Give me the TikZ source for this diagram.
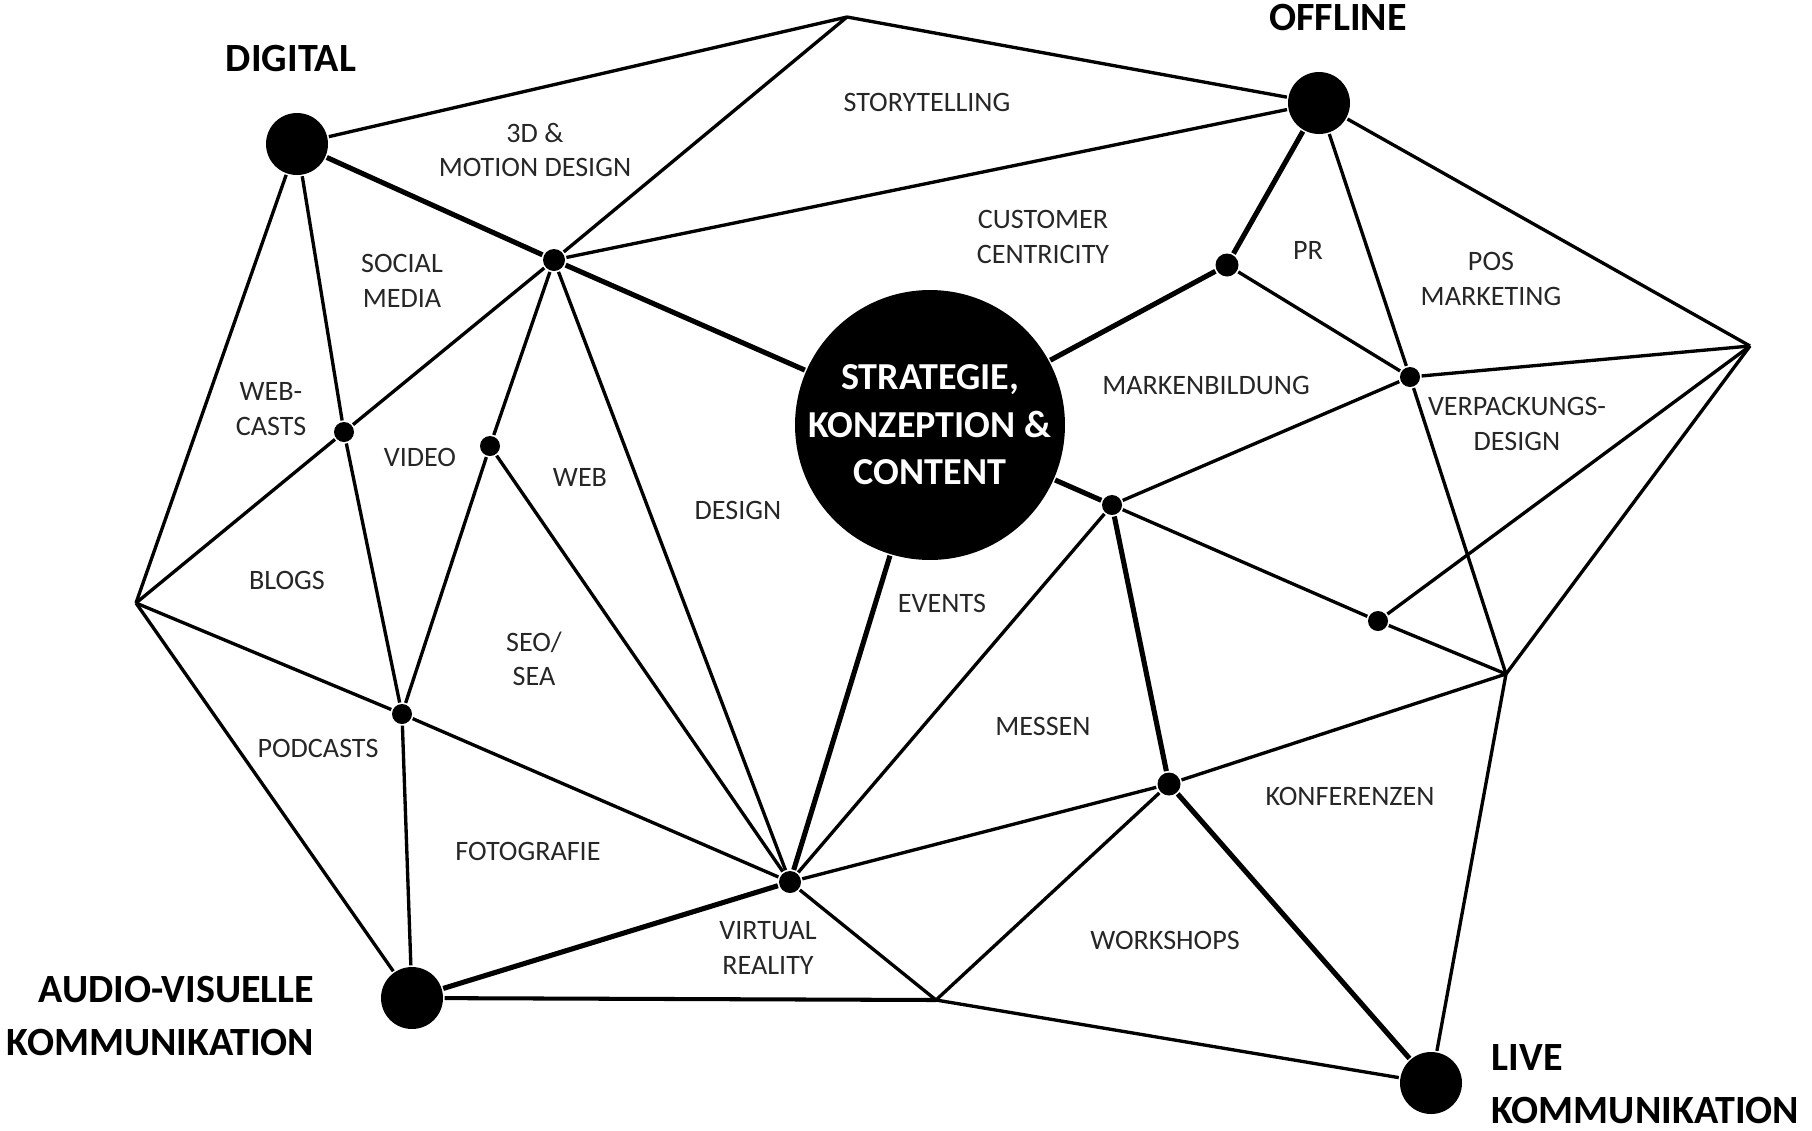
\documentclass[tikz,border=0pt]{standalone}
\usepackage{fontspec}
\setmainfont{Carlito}
\begin{document}
\begin{tikzpicture}[x=0.02cm, y=-0.02cm, line width=1.9pt]
\tikzset{pol/.style={circle, fill, inner sep=0pt, minimum size=1.24cm},
knoten/.style={circle, fill, inner sep=0pt, minimum size=0.4cm},
kern/.style={circle, fill, inner sep=0pt, minimum size=5.4cm, text=white, align=center, font=\fontsize{21.7}{27}\selectfont\bfseries},
feld/.style={align=center, inner sep=0pt, text=black!85, font=\fontsize{16}{19.7}\selectfont},
titel/.style={inner sep=0pt, font=\fontsize{22.8}{30}\selectfont\bfseries},
stark/.style={line width=2.9pt}}
\useasboundingbox (0,0) rectangle (1812,1130);
\node[pol] (Digital) at (297,144) {};
\node[pol] (Offline) at (1319,103) {};
\node[pol] (Audio) at (412,998) {};
\node[pol] (Live) at (1431,1083) {};
\node[kern] (Kern) at (930,425) {STRATEGIE,\\KONZEPTION \&\\CONTENT};
\coordinate (T) at (847,17);
\coordinate (R) at (1750,346);
\coordinate (L) at (136,603);
\coordinate (K) at (1506,674);
\coordinate (M) at (936,1000);
\node[knoten, minimum size=0.44cm] (V1) at (554,260) {};
\node[knoten] (V2) at (344,432) {};
\node[knoten] (V3) at (490,446) {};
\node[knoten] (V4) at (402,714) {};
\node[knoten, minimum size=0.44cm] (V5) at (790,882) {};
\node[knoten, minimum size=0.46cm] (V6) at (1227,265) {};
\node[knoten] (V7) at (1410,377) {};
\node[knoten] (V8) at (1112,505) {};
\node[knoten] (V9) at (1378,621) {};
\node[knoten, minimum size=0.46cm] (V10) at (1169,784) {};
\draw (Digital) -- (T);
\draw (T) -- (Offline);
\draw[stark] (Digital) -- (V1);
\draw (T) -- (V1);
\draw (V1) -- (Offline);
\draw[stark] (V1) -- (Kern);
\draw (Digital) -- (V2);
\draw (Digital) -- (L);
\draw (L) -- (V2);
\draw (V2) -- (V1);
\draw (V2) -- (V4);
\draw (V1) -- (V3);
\draw (V3) -- (V4);
\draw (V3) -- (V5);
\draw (V1) -- (V5);
\draw[stark] (Kern) -- (V5);
\draw (L) -- (V4);
\draw (V4) -- (V5);
\draw (L) -- (Audio);
\draw (V4) -- (Audio);
\draw[stark] (Audio) -- (V5);
\draw[line width=2.3pt] (Audio) -- (M);
\draw (V5) -- (M);
\draw (V5) -- (V8);
\draw[stark] (Kern) -- (V8);
\draw[stark] (V8) -- (V10);
\draw (V5) -- (V10);
\draw (V10) -- (K);
\draw (V10) -- (M);
\draw[stark] (V10) -- (Live);
\draw (M) -- (Live);
\draw (Live) -- (K);
\draw (K) -- (R);
\draw (V8) -- (V9);
\draw (V9) -- (K);
\draw (V9) -- (R);
\draw (V7) -- (K);
\draw (V7) -- (R);
\draw (V8) -- (V7);
\draw (V6) -- (V7);
\draw (Offline) -- (V7);
\draw[stark] (Offline) -- (V6);
\draw[stark] (Kern) -- (V6);
\draw (Offline) -- (R);
\node[titel] (tDigital) at (291,58) {DIGITAL};
\node[titel] (tOffline) at (1338,17) {OFFLINE};
\node[titel, align=right, anchor=east] (tAudio) at (316,1016) {AUDIO-VISUELLE\\KOMMUNIKATION};
\node[titel, align=left, anchor=west] (tLive) at (1490,1084) {LIVE\\KOMMUNIKATION};
\node[feld] (f1) at (927,102) {STORYTELLING};
\node[feld] (f2) at (535,150) {3D \&\\MOTION DESIGN};
\node[feld] (f3) at (1043,237) {CUSTOMER\\CENTRICITY};
\node[feld] (f4) at (402,281) {SOCIAL\\MEDIA};
\node[feld] (f5) at (1308,250) {PR};
\node[feld] (f6) at (1491,279) {POS\\MARKETING};
\node[feld] (f7) at (1206,385) {MARKENBILDUNG};
\node[feld] (f8) at (1517,424) {VERPACKUNGS-\\DESIGN};
\node[feld] (f9) at (271,409) {WEB-\\CASTS};
\node[feld] (f10) at (420,457) {VIDEO};
\node[feld] (f11) at (580,477) {WEB};
\node[feld] (f12) at (738,510) {DESIGN};
\node[feld] (f13) at (287,580) {BLOGS};
\node[feld] (f14) at (942,603) {EVENTS};
\node[feld] (f15) at (534,659) {SEO/\\SEA};
\node[feld] (f16) at (1043,726) {MESSEN};
\node[feld] (f17) at (318,748) {PODCASTS};
\node[feld] (f18) at (1350,796) {KONFERENZEN};
\node[feld] (f19) at (528,851) {FOTOGRAFIE};
\node[feld] (f20) at (768,948) {VIRTUAL\\REALITY};
\node[feld] (f21) at (1165,940) {WORKSHOPS};
\end{tikzpicture}
\end{document}
